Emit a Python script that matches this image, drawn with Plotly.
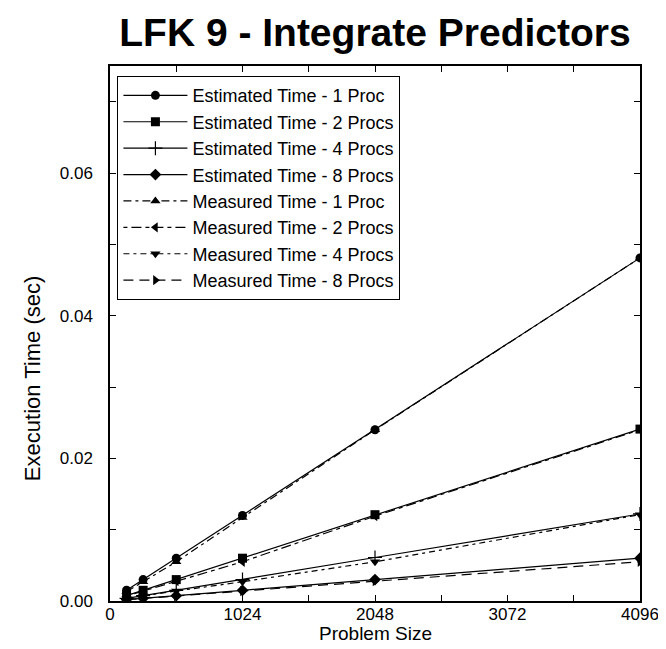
import plotly.graph_objects as go

problem_sizes = [128, 256, 512, 1024, 2048, 4096]

est_1 = [0.0015, 0.0030, 0.0060, 0.0120, 0.0240, 0.0481]
est_2 = [0.00075, 0.0015, 0.0030, 0.0060, 0.0121, 0.0241]
est_4 = [0.000375, 0.00075, 0.0015, 0.0030, 0.0061, 0.0122]
est_8 = [0.0002, 0.000375, 0.00075, 0.0015, 0.0030, 0.0060]

meas_1 = [0.0013, 0.0027, 0.0055, 0.0117, 0.0240, 0.0481]
meas_2 = [0.0007, 0.0014, 0.0028, 0.0055, 0.0119, 0.0240]
meas_4 = [0.0004, 0.0007, 0.0014, 0.0027, 0.0055, 0.0121]
meas_8 = [0.0002, 0.0004, 0.0007, 0.0014, 0.0028, 0.0055]

x_tick_vals = [0, 1024, 2048, 3072, 4096]
x_tick_text = ["0", "1024", "2048", "3072", "4096"]
y_tick_vals = [0.0, 0.02, 0.04, 0.06]
y_tick_text = ["0.00", "0.02", "0.04", "0.06"]

series = [
    ("Estimated Time - 1 Proc", est_1, "solid", "circle"),
    ("Estimated Time - 2 Procs", est_2, "solid", "square"),
    ("Estimated Time - 4 Procs", est_4, "solid", "cross-thin"),
    ("Estimated Time - 8 Procs", est_8, "solid", "diamond"),
    ("Measured Time - 1 Proc", meas_1, "8px,4px,3px,4px", "triangle-up"),
    ("Measured Time - 2 Procs", meas_2, "4px,4px,10px,4px", "triangle-left"),
    ("Measured Time - 4 Procs", meas_4, "6px,4px,3px,4px", "triangle-down"),
    ("Measured Time - 8 Procs", meas_8, "10px,6px", "triangle-right"),
]

FONT = "Liberation Sans, Arial, sans-serif"

fig = go.Figure()
for name, vals, dash, sym in series:
    fig.add_trace(go.Scatter(
        x=problem_sizes, y=vals, name=name, mode="lines+markers",
        line=dict(color="black", width=1.2, dash=dash),
        marker=dict(symbol=sym, size=9 if sym != "cross-thin" else 10,
                    color="black",
                    line=dict(color="black", width=1.2 if sym == "cross-thin" else 0)),
    ))

axis_common = dict(
    showline=True, linecolor="black", linewidth=1.5, mirror="allticks",
    ticks="inside", ticklen=6, tickcolor="black", tickwidth=1,
    showgrid=False, zeroline=False,
    tickfont=dict(family=FONT, size=17, color="black"),
)

fig.update_xaxes(
    range=[0, 4096], tickvals=x_tick_vals, ticktext=x_tick_text,
    minor=dict(dtick=512, tick0=0, ticks="inside", ticklen=6, tickcolor="black", showgrid=False),
    ticklabelstandoff=-3,
    **axis_common,
)
fig.update_yaxes(
    range=[0, 0.075], tickvals=y_tick_vals, ticktext=y_tick_text,
    minor=dict(dtick=0.01, tick0=0, ticks="inside", ticklen=6, tickcolor="black", showgrid=False),
    ticklabelstandoff=12,
    **axis_common,
)

MARGIN_T, MARGIN_B = 58, 56
plot_h = 649 - MARGIN_T - MARGIN_B

fig.update_layout(
    width=666, height=649,
    margin=dict(l=102, r=34, t=MARGIN_T, b=MARGIN_B),
    paper_bgcolor="white", plot_bgcolor="white",
    font=dict(family=FONT, color="black"),
    title=dict(text="<b>LFK 9 - Integrate Predictors</b>", x=0.551, xanchor="center",
               y=0.962, yanchor="middle",
               font=dict(family=FONT, size=39, color="black")),
    showlegend=True,
    legend=dict(x=0.014, y=0.981, xanchor="left", yanchor="top",
                bgcolor="white", bordercolor="black", borderwidth=1,
                font=dict(family=FONT, size=18, color="black"),
                itemwidth=64, tracegroupgap=0),
    annotations=[
        dict(text="Execution Time (sec)", textangle=-90,
             xref="paper", yref="paper", x=-0.145, y=0.415,
             xanchor="center", yanchor="middle", showarrow=False,
             font=dict(family=FONT, size=22, color="black")),
        dict(text="Problem Size",
             xref="paper", yref="paper", x=0.5, y=-(625 - (649 - MARGIN_B)) / plot_h,
             xanchor="center", yanchor="middle", showarrow=False,
             font=dict(family=FONT, size=19, color="black")),
    ],
)

fig.write_html("out.html")
